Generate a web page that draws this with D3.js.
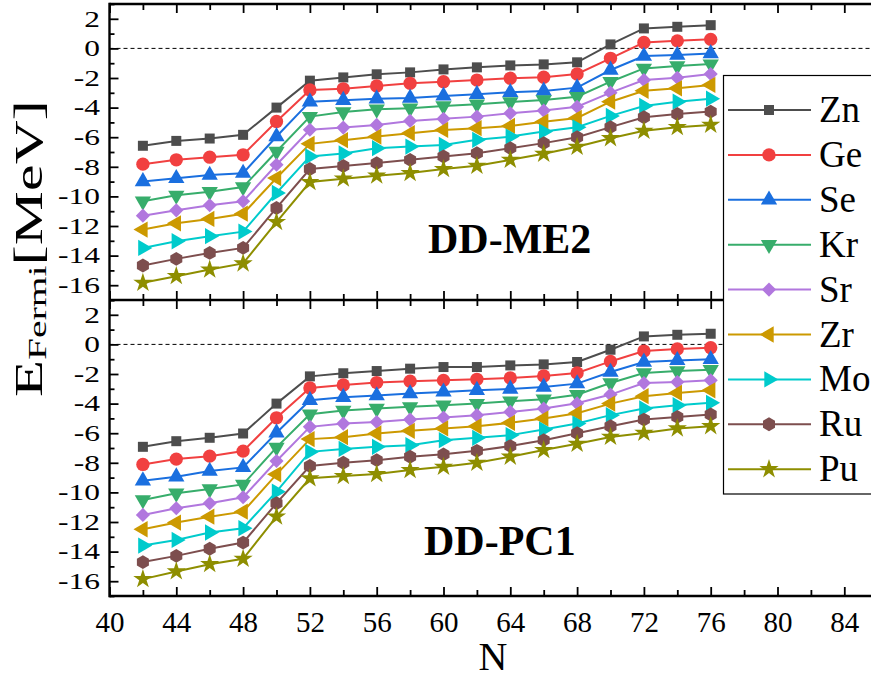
<!DOCTYPE html>
<html><head><meta charset="utf-8">
<script src="https://cdn.jsdelivr.net/npm/d3@7"></script>
<style>
body{margin:0;background:#fff}
svg{display:block}
text{font-family:"Liberation Serif","Times New Roman",serif;fill:#000}
</style>
</head><body>
<svg id="c" width="871" height="679"></svg>
<script>
// ---------------- data ----------------
const N = [42,44,46,48,50,52,54,56,58,60,62,64,66,68,70,72,74,76];
const elements = ["Zn","Ge","Se","Kr","Sr","Zr","Mo","Ru","Pu"];
const xTicks = [40,44,48,52,56,60,64,68,72,76,80,84];
const yTicks = [-16,-14,-12,-10,-8,-6,-4,-2,0,2];

// DD-ME2 (upper panel)
const ME2_Zn = [-6.58,-6.25,-6.09,-5.84,-4.00,-2.18,-1.96,-1.75,-1.62,-1.42,-1.28,-1.15,-1.08,-0.94,0.27,1.35,1.46,1.57];
const ME2_Ge = [-7.82,-7.53,-7.35,-7.19,-4.94,-2.81,-2.73,-2.54,-2.36,-2.25,-2.14,-2.02,-1.95,-1.73,-0.67,0.40,0.51,0.61];
const ME2_Se = [-8.99,-8.78,-8.56,-8.43,-5.95,-3.60,-3.50,-3.40,-3.35,-3.21,-3.10,-2.97,-2.88,-2.65,-1.46,-0.52,-0.45,-0.34];
const ME2_Kr = [-10.33,-9.93,-9.68,-9.37,-6.97,-4.61,-4.30,-4.11,-4.04,-3.89,-3.77,-3.62,-3.48,-3.26,-2.25,-1.35,-1.19,-1.06];
const ME2_Sr = [-11.30,-10.94,-10.60,-10.33,-7.86,-5.50,-5.35,-5.17,-4.90,-4.76,-4.61,-4.38,-4.20,-3.94,-2.99,-2.14,-1.98,-1.73];
const ME2_Zr = [-12.24,-11.82,-11.52,-11.17,-8.76,-6.45,-6.20,-5.96,-5.73,-5.51,-5.39,-5.24,-4.95,-4.70,-3.60,-2.86,-2.70,-2.47];
const ME2_Mo = [-13.48,-13.03,-12.69,-12.38,-9.77,-7.30,-7.10,-6.74,-6.63,-6.52,-6.18,-5.96,-5.62,-5.33,-4.56,-3.89,-3.60,-3.40];
const ME2_Ru = [-14.67,-14.22,-13.82,-13.48,-10.78,-8.15,-7.95,-7.75,-7.53,-7.30,-7.08,-6.74,-6.40,-6.00,-5.32,-4.65,-4.43,-4.27];
const ME2_Pu = [-15.84,-15.39,-14.94,-14.53,-11.73,-9.03,-8.80,-8.60,-8.42,-8.15,-7.93,-7.53,-7.12,-6.65,-6.07,-5.57,-5.32,-5.17];

// DD-PC1 (lower panel)
const PC1_Zn = [-6.92,-6.54,-6.31,-6.02,-4.00,-2.16,-1.95,-1.80,-1.64,-1.53,-1.53,-1.42,-1.35,-1.19,-0.36,0.54,0.65,0.72];
const PC1_Ge = [-8.11,-7.75,-7.55,-7.21,-4.96,-2.94,-2.74,-2.58,-2.49,-2.43,-2.36,-2.27,-2.13,-1.93,-1.15,-0.45,-0.31,-0.22];
const PC1_Se = [-9.21,-8.94,-8.56,-8.31,-5.97,-3.77,-3.57,-3.46,-3.32,-3.21,-3.10,-3.01,-2.88,-2.65,-1.87,-1.19,-1.08,-1.01];
const PC1_Kr = [-10.51,-10.06,-9.77,-9.46,-6.96,-4.72,-4.47,-4.33,-4.22,-4.11,-4.00,-3.84,-3.71,-3.40,-2.61,-1.93,-1.80,-1.71];
const PC1_Sr = [-11.52,-11.07,-10.73,-10.33,-7.88,-5.57,-5.35,-5.24,-5.08,-4.94,-4.78,-4.56,-4.33,-3.98,-3.39,-2.61,-2.54,-2.43];
const PC1_Zr = [-12.49,-12.04,-11.64,-11.30,-8.78,-6.40,-6.27,-6.02,-5.84,-5.68,-5.53,-5.30,-5.01,-4.65,-4.00,-3.50,-3.28,-3.10];
const PC1_Mo = [-13.59,-13.21,-12.71,-12.42,-9.95,-7.26,-7.06,-6.92,-6.81,-6.47,-6.31,-6.13,-5.75,-5.35,-4.78,-4.33,-4.11,-3.95];
const PC1_Ru = [-14.71,-14.29,-13.81,-13.39,-10.73,-8.22,-8.00,-7.82,-7.59,-7.43,-7.19,-6.87,-6.47,-6.00,-5.53,-5.08,-4.90,-4.74];
const PC1_Pu = [-15.86,-15.34,-14.85,-14.49,-11.64,-9.05,-8.90,-8.76,-8.49,-8.27,-8.00,-7.59,-7.14,-6.72,-6.25,-5.98,-5.68,-5.53];

const ME2 = [ME2_Zn,ME2_Ge,ME2_Se,ME2_Kr,ME2_Sr,ME2_Zr,ME2_Mo,ME2_Ru,ME2_Pu];
const PC1 = [PC1_Zn,PC1_Ge,PC1_Se,PC1_Kr,PC1_Sr,PC1_Zr,PC1_Mo,PC1_Ru,PC1_Pu];

// ---------------- styles ----------------
const colors = ["#4d4d4d","#f14040","#1a6fdf","#37ad6b","#b177de","#cc9900","#00cbcc","#7d4e4e","#8e8e00"];
const hexagon = {draw(ctx,size){
  const r = Math.sqrt(size/(1.5*Math.sqrt(3)));
  for(let i=0;i<6;i++){const a=(i*60-90)*Math.PI/180; const px=r*Math.cos(a), py=r*Math.sin(a); if(i===0)ctx.moveTo(px,py); else ctx.lineTo(px,py);}
  ctx.closePath();
}};
const markers = [
  {type:d3.symbolSquare, size:100, rot:0},
  {type:d3.symbolCircle, size:140, rot:0},
  {type:d3.symbolTriangle, size:115, rot:0},
  {type:d3.symbolTriangle, size:115, rot:180},
  {type:d3.symbolSquare, size:100, rot:45},
  {type:d3.symbolTriangle, size:115, rot:-90},
  {type:d3.symbolTriangle, size:115, rot:90},
  {type:hexagon, size:125, rot:0},
  {type:d3.symbolStar, size:115, rot:0}
];

const svg = d3.select("#c");
const x = d3.scaleLinear().domain([40,86]).range([109.5,877.7]);
const yTop = d3.scaleLinear().domain([-17,3]).range([300,4]);
const yBot = d3.scaleLinear().domain([-17,3]).range([596,300]);
const xMinor = d3.range(42,87,4);
const yMinor = d3.range(-17,4,2);

function styleAxis(g){
  g.select(".domain").remove();
  g.selectAll(".tick line").attr("stroke","#000").attr("stroke-width",1.8);
  g.attr("font-family",null).attr("font-size",null);
}

function panel(y, data, label, lx, ly, showX){
  const g = svg.append("g");
  // zero dashed line
  g.append("line").attr("x1",x(40)).attr("x2",871).attr("y1",y(0)).attr("y2",y(0))
    .attr("stroke","#000").attr("stroke-width",1).attr("stroke-dasharray","4,3");
  // left axis
  const la = g.append("g").attr("transform",`translate(${x(40)},0)`)
    .call(d3.axisLeft(y).tickValues(yTicks).tickSize(-9).tickPadding(9.5).tickFormat(d=>String(d)));
  styleAxis(la);
  const lt = la.selectAll("text").attr("font-size",23);
  const probe = lt.filter(d=>d===-16).node();
  const sx = 42 / probe.getComputedTextLength();
  lt.attr("x",-9.5/sx).attr("transform",`scale(${sx},1)`);
  const lm = g.append("g").attr("transform",`translate(${x(40)},0)`)
    .call(d3.axisLeft(y).tickValues(yMinor).tickSize(-5).tickFormat(""));
  styleAxis(lm);
  // top axis (ticks down)
  const [yb, yt] = y.range();
  const ta = g.append("g").attr("transform",`translate(0,${yt})`)
    .call(d3.axisTop(x).tickValues(xTicks).tickSize(-9).tickFormat(""));
  styleAxis(ta);
  const tm = g.append("g").attr("transform",`translate(0,${yt})`)
    .call(d3.axisTop(x).tickValues(xMinor).tickSize(-6).tickFormat(""));
  styleAxis(tm);
  // bottom axis (ticks up)
  const ba = g.append("g").attr("transform",`translate(0,${yb})`)
    .call(d3.axisBottom(x).tickValues(xTicks).tickSize(-9).tickPadding(15).tickFormat(showX? d=>String(d) : ""));
  styleAxis(ba);
  ba.selectAll("text").attr("font-size",29);
  const bm = g.append("g").attr("transform",`translate(0,${yb})`)
    .call(d3.axisBottom(x).tickValues(xMinor).tickSize(-6).tickFormat(""));
  styleAxis(bm);

  // series
  const line = d3.line().x((d,i)=>x(N[i])).y(d=>y(d));
  data.forEach((vals,k)=>{
    const s = g.append("g");
    s.append("path").attr("d",line(vals)).attr("fill","none").attr("stroke",colors[k]).attr("stroke-width",2);
    const m = markers[k];
    s.selectAll("path.m").data(vals).join("path").attr("class","m")
      .attr("d",d3.symbol().type(m.type).size(m.size))
      .attr("transform",(d,i)=>`translate(${x(N[i])},${y(d)}) rotate(${m.rot})`)
      .attr("fill",colors[k]);
  });
  // panel label
  g.append("text").attr("x",lx).attr("y",ly).attr("font-size",42).attr("font-weight","bold").text(label);
}

panel(yTop, ME2, "DD-ME2", 428, 253, false);
panel(yBot, PC1, "DD-PC1", 424, 555, true);

// frame
svg.append("line").attr("x1",x(40)).attr("x2",871).attr("y1",yTop(3)).attr("y2",yTop(3)).attr("stroke","#000").attr("stroke-width",2.4);
svg.append("line").attr("x1",x(40)).attr("x2",871).attr("y1",yTop(-17)).attr("y2",yTop(-17)).attr("stroke","#000").attr("stroke-width",2.4);
svg.append("line").attr("x1",x(40)).attr("x2",871).attr("y1",yBot(-17)).attr("y2",yBot(-17)).attr("stroke","#000").attr("stroke-width",2.4);
svg.append("line").attr("x1",x(40)).attr("x2",x(40)).attr("y1",yTop(3)-1.2).attr("y2",yBot(-17)+1.2).attr("stroke","#000").attr("stroke-width",2.4);

// axis titles
svg.append("text").attr("x",493).attr("y",670).attr("text-anchor","middle").attr("font-size",40).text("N");
const yt = svg.append("g").attr("transform","translate(42,397) rotate(-90)");
const ytx = yt.append("text").attr("x",0).attr("y",0).attr("font-size",40);
ytx.append("tspan").text("E");
ytx.append("tspan").attr("font-size",26).attr("dy",4).text("Fermi");
ytx.append("tspan").attr("dy",-4).text("[MeV]");
const w = ytx.node().getComputedTextLength();
ytx.attr("transform",`scale(${297/w},1)`);

// legend
const lg = svg.append("g");
lg.append("rect").attr("x",723.5).attr("y",75.5).attr("width",200).attr("height",418.5)
  .attr("fill","#fff").attr("stroke","#000").attr("stroke-width",1.2);
elements.forEach((el,k)=>{
  const yy = 110 + k*44.9;
  lg.append("line").attr("x1",728).attr("x2",811).attr("y1",yy).attr("y2",yy).attr("stroke",colors[k]).attr("stroke-width",2);
  const m = markers[k];
  lg.append("path").attr("d",d3.symbol().type(m.type).size(m.size))
    .attr("transform",`translate(769,${yy}) rotate(${m.rot})`).attr("fill",colors[k]);
  lg.append("text").attr("x",819).attr("y",yy+12).attr("font-size",37).text(el);
});
</script>
</body></html>
